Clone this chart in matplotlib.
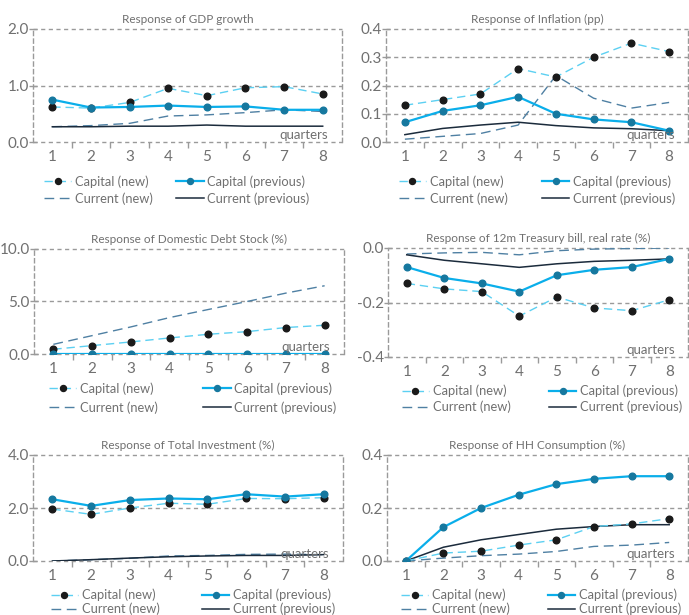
import matplotlib
matplotlib.use("Agg")
import matplotlib.pyplot as plt
from matplotlib.ticker import FixedLocator, FormatStrFormatter

plt.rcParams['font.family'] = ['Lato', 'DejaVu Sans']
plt.rcParams['font.weight'] = 'normal'

TXT = '#707070'
GRID = '#9a9a9a'

quarters = [1, 2, 3, 4, 5, 6, 7, 8]

# GDP growth
gdp_cap_new = [0.62, 0.60, 0.70, 0.95, 0.82, 0.96, 0.98, 0.85]
gdp_cap_prev = [0.75, 0.61, 0.62, 0.645, 0.62, 0.63, 0.57, 0.57]
gdp_cur_new = [0.27, 0.29, 0.33, 0.46, 0.48, 0.52, 0.57, 0.54]
gdp_cur_prev = [0.27, 0.27, 0.28, 0.28, 0.30, 0.28, 0.28, 0.28]

# Inflation (pp)
inf_cap_new = [0.13, 0.15, 0.17, 0.26, 0.23, 0.30, 0.35, 0.32]
inf_cap_prev = [0.07, 0.11, 0.13, 0.16, 0.10, 0.08, 0.07, 0.04]
inf_cur_new = [0.01, 0.02, 0.03, 0.06, 0.235, 0.155, 0.12, 0.14]
inf_cur_prev = [0.026, 0.048, 0.06, 0.07, 0.058, 0.05, 0.047, 0.04]

# Domestic debt stock (%)
debt_cap_new = [0.45, 0.80, 1.15, 1.53, 1.88, 2.13, 2.52, 2.74]
debt_cap_prev = [0.0, 0.0, 0.0, 0.0, 0.0, 0.0, 0.0, 0.0]
debt_cur_new = [0.92, 1.75, 2.58, 3.47, 4.24, 5.0, 5.8, 6.5]
debt_cur_prev = [0.0, 0.0, 0.0, 0.0, 0.0, 0.0, 0.0, 0.0]

# 12m Treasury bill, real rate (%)
tb_cap_new = [-0.13, -0.15, -0.16, -0.25, -0.18, -0.22, -0.23, -0.19]
tb_cap_prev = [-0.07, -0.11, -0.13, -0.16, -0.10, -0.08, -0.07, -0.04]
tb_cur_new = [-0.022, -0.018, -0.016, -0.025, -0.01, -0.004, -0.002, 0.0]
tb_cur_prev = [-0.025, -0.045, -0.058, -0.071, -0.058, -0.049, -0.045, -0.04]

# Total investment (%)
inv_cap_new = [1.96, 1.76, 2.00, 2.18, 2.14, 2.36, 2.35, 2.39]
inv_cap_prev = [2.33, 2.08, 2.30, 2.36, 2.33, 2.52, 2.43, 2.52]
inv_cur_new = [0.0, 0.05, 0.10, 0.19, 0.21, 0.25, 0.26, 0.24]
inv_cur_prev = [0.0, 0.05, 0.11, 0.16, 0.19, 0.21, 0.21, 0.24]

# HH consumption (%)
hh_cap_new = [0.0, 0.03, 0.037, 0.06, 0.08, 0.13, 0.14, 0.16]
hh_cap_prev = [0.0, 0.128, 0.20, 0.25, 0.29, 0.31, 0.32, 0.32]
hh_cur_new = [0.0, 0.011, 0.02, 0.026, 0.036, 0.055, 0.06, 0.07]
hh_cur_prev = [0.0, 0.052, 0.08, 0.10, 0.12, 0.13, 0.137, 0.137]

# rect = (left, right, top, bottom) of the plot area in pixels;
# leg = (centre x, centre y) of the legend block in pixels, column gap, row spacing
panels = [
    dict(title='Response of GDP growth', rect=(33, 342, 29, 142), yticks=[0.0, 1.0, 2.0],
         leg=(177, 190, 1.8, 0.33),
         data=(gdp_cap_new, gdp_cap_prev, gdp_cur_new, gdp_cur_prev)),
    dict(title='Response of Inflation (pp)', rect=(386, 688, 29, 142),
         yticks=[0.0, 0.1, 0.2, 0.3, 0.4], leg=(537, 190, 2.7, 0.33),
         data=(inf_cap_new, inf_cap_prev, inf_cur_new, inf_cur_prev)),
    dict(title='Response of Domestic Debt Stock (%)', rect=(34, 344, 249, 354),
         yticks=[0.0, 5.0, 10.0], leg=(193, 398, 3.5, 0.48),
         data=(debt_cap_new, debt_cap_prev, debt_cur_new, debt_cur_prev)),
    dict(title='Response of 12m Treasury bill, real rate (%)', rect=(388, 688, 248, 357),
         yticks=[-0.4, -0.2, 0.0], leg=(542, 399, 3.0, 0.26),
         data=(tb_cap_new, tb_cap_prev, tb_cur_new, tb_cur_prev)),
    dict(title='Response of Total Investment (%)', rect=(33, 343, 455, 561),
         yticks=[0.0, 2.0, 4.0], leg=(193, 602, 3.3, 0.1),
         data=(inv_cap_new, inv_cap_prev, inv_cur_new, inv_cur_prev)),
    dict(title='Response of HH Consumption (%)', rect=(387, 688, 455, 561),
         yticks=[0.0, 0.2, 0.4], leg=(541, 602, 2.9, 0.1),
         data=(hh_cap_new, hh_cap_prev, hh_cur_new, hh_cur_prev)),
]

W, H = 689, 615
fig = plt.figure(figsize=(W / 100, H / 100), dpi=100)
fig.patch.set_facecolor('white')

for p in panels:
    x0, x1, ytop, ybot = p['rect']
    ax = fig.add_axes([x0 / W, 1 - ybot / H, (x1 - x0) / W, (ybot - ytop) / H])
    cap_new, cap_prev, cur_new, cur_prev = p['data']

    l_cur_new, = ax.plot(quarters, cur_new, color='#4f80a3', lw=1.0, dashes=(7, 4),
                         label='Current (new)', zorder=3)
    l_cur_prev, = ax.plot(quarters, cur_prev, color='#1b2b3c', lw=1.1,
                          label='Current (previous)', zorder=3)
    l_cap_new, = ax.plot(quarters, cap_new, color='#5cd0f2', lw=1.0, dashes=(6, 3.5),
                         marker='o', ms=4.8, mfc='#1a1a1a', mec='#1a1a1a',
                         label='Capital (new)', zorder=4)
    l_cap_prev, = ax.plot(quarters, cap_prev, color='#0aaeea', lw=1.6,
                          marker='o', ms=4.8, mfc='#16789f', mec='#16789f',
                          label='Capital (previous)', zorder=5)

    yt = p['yticks']
    ax.set_xlim(0.5, 8.5)
    ax.set_ylim(min(yt), max(yt))
    ax.set_xticks(quarters)
    ax.xaxis.set_minor_locator(FixedLocator([1.5, 2.5, 3.5, 4.5, 5.5, 6.5, 7.5]))
    ax.set_yticks(yt)
    ax.yaxis.set_major_formatter(FormatStrFormatter('%.1f'))
    ax.tick_params(axis='x', which='major', length=0, pad=6, labelsize=11, labelcolor=TXT)
    ax.tick_params(axis='x', which='minor', length=4, direction='out', color=GRID, width=1)
    ax.tick_params(axis='y', which='major', length=6, direction='inout', color=GRID,
                   width=1, labelsize=11, labelcolor=TXT, pad=0)
    for v in yt:
        ax.axhline(v, color=GRID, lw=1.0, dashes=(3, 2.5), zorder=1, clip_on=False)
    ax.spines['top'].set_visible(False)
    ax.spines['bottom'].set_visible(False)
    for side in ('left', 'right'):
        ax.spines[side].set_color(GRID)
        ax.spines[side].set_linewidth(1.0)
        ax.spines[side].set_linestyle((0, (3, 2.5)))
    ax.set_title(p['title'], fontsize=8.5, color=TXT, pad=4)
    ax.text(0.875, 0.005, 'quarters', transform=ax.transAxes, ha='center', va='bottom',
            fontsize=9.5, color=TXT, zorder=6)

    lx, ly, gap, lsp = p['leg']
    fig.legend([l_cap_new, l_cur_new, l_cap_prev, l_cur_prev],
               ['Capital (new)', 'Current (new)', 'Capital (previous)', 'Current (previous)'],
               ncol=2, loc='center', bbox_to_anchor=(lx / W, 1 - ly / H),
               frameon=False, fontsize=9.3, labelcolor=TXT, handlelength=2.1,
               handletextpad=0.3, columnspacing=gap, labelspacing=lsp,
               borderaxespad=0, borderpad=0, markerscale=0.9)

fig.savefig('out.png', dpi=100, facecolor='white')
